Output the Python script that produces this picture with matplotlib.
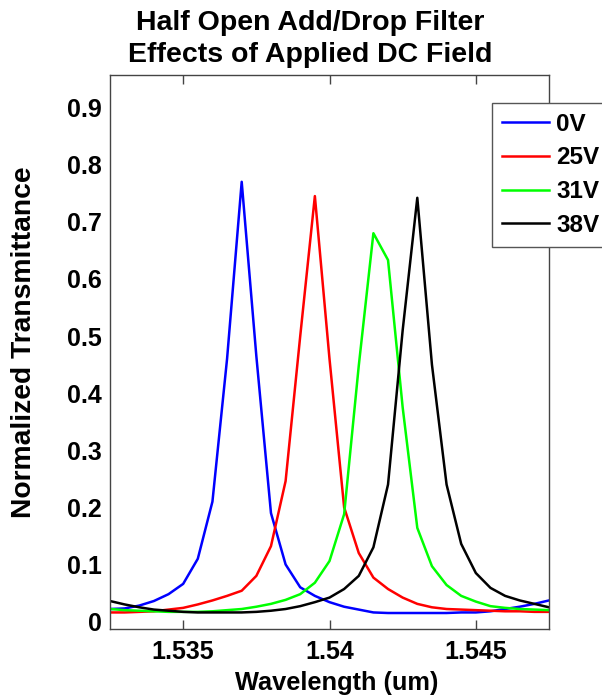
import matplotlib
matplotlib.use("Agg")
import matplotlib.pyplot as plt
import numpy as np

plt.rcParams['font.family'] = ['Liberation Sans', 'DejaVu Sans']
plt.rcParams['font.weight'] = 'bold'

# wavelength grid (um), 31 samples
wl = np.linspace(1.5325, 1.5475, 31)

v0 = [0.022, 0.023, 0.028, 0.036, 0.048, 0.066, 0.11, 0.21, 0.46, 0.77, 0.465,
      0.19, 0.10, 0.06, 0.045, 0.034, 0.026, 0.021, 0.016, 0.015, 0.015, 0.015,
      0.015, 0.015, 0.016, 0.016, 0.018, 0.022, 0.026, 0.031, 0.037]
v25 = [0.016, 0.016, 0.017, 0.018, 0.021, 0.024, 0.03, 0.037, 0.045, 0.054, 0.08,
       0.132, 0.246, 0.50, 0.745, 0.46, 0.20, 0.12, 0.077, 0.057, 0.042, 0.031,
       0.025, 0.022, 0.021, 0.02, 0.019, 0.018, 0.018, 0.017, 0.017]
v31 = [0.022, 0.02, 0.019, 0.018, 0.017, 0.017, 0.017, 0.018, 0.02, 0.022, 0.026,
       0.031, 0.038, 0.048, 0.068, 0.106, 0.188, 0.448, 0.68, 0.633, 0.375, 0.164,
       0.097, 0.064, 0.045, 0.035, 0.027, 0.024, 0.022, 0.021, 0.02]
v38 = [0.036, 0.03, 0.025, 0.021, 0.019, 0.017, 0.016, 0.016, 0.016, 0.016, 0.017,
       0.019, 0.022, 0.027, 0.034, 0.042, 0.057, 0.08, 0.13, 0.24, 0.51, 0.742,
       0.45, 0.24, 0.136, 0.085, 0.059, 0.045, 0.037, 0.031, 0.025]

series = [v0, v25, v31, v38]
labels = ['0V', '25V', '31V', '38V']
colors = ['#0000ff', '#ff0000', '#00ff00', '#000000']

W, H = 602, 698
fig = plt.figure(figsize=(W / 100, H / 100), dpi=100)
ax = fig.add_axes([110 / W, 1 - 629 / H, 439 / W, 554 / H])

for y, lab, c in zip(series, labels, colors):
    ax.plot(wl, y, color=c, lw=1.8, label=lab)

ax.set_xlim(1.5325, 1.5475)
ax.set_ylim(-0.013, 0.957)
ax.set_xticks([1.535, 1.54, 1.545])
ax.set_xticklabels(['1.535', '1.54', '1.545'])
ax.set_yticks(np.arange(0, 0.91, 0.1))
ax.set_yticklabels(['0', '0.1', '0.2', '0.3', '0.4', '0.5', '0.6', '0.7', '0.8', '0.9'])

for s in ax.spines.values():
    s.set_color('#444444')
    s.set_linewidth(1.0)
ax.tick_params(axis='x', direction='in', length=6.5, width=1, color='#444444',
               top=True, labelsize=18, pad=8)
ax.tick_params(axis='y', length=0, labelsize=18, pad=6)

ax.set_xlabel('Wavelength (um)', fontsize=18.3, fontweight='bold')
ax.xaxis.set_label_coords((337 - 110) / 439, (629 - 683) / 554)
ax.xaxis.label.set_verticalalignment('center')
ax.set_ylabel('Normalized Transmittance', fontsize=20.3, fontweight='bold')
ax.yaxis.set_label_coords((24 - 110) / 439, (629 - 342) / 554)
ax.yaxis.label.set_verticalalignment('center')

fig.text(310 / W, 1 - 23 / H, 'Half Open Add/Drop Filter', ha='center', va='center',
         fontsize=20.5, fontweight='bold')
fig.text(310 / W, 1 - 55 / H, 'Effects of Applied DC Field', ha='center', va='center',
         fontsize=20.5, fontweight='bold')

leg = ax.legend(loc='upper left', bbox_to_anchor=(492 / W, 1 - 103 / H),
                bbox_transform=fig.transFigure, fontsize=17.5, frameon=True,
                fancybox=False, framealpha=1, edgecolor='#555555',
                handlelength=1.95, handletextpad=0.3, borderpad=0.4,
                labelspacing=0.44, borderaxespad=0)
leg.get_frame().set_linewidth(1.0)

fig.savefig('out.png', dpi=100)
